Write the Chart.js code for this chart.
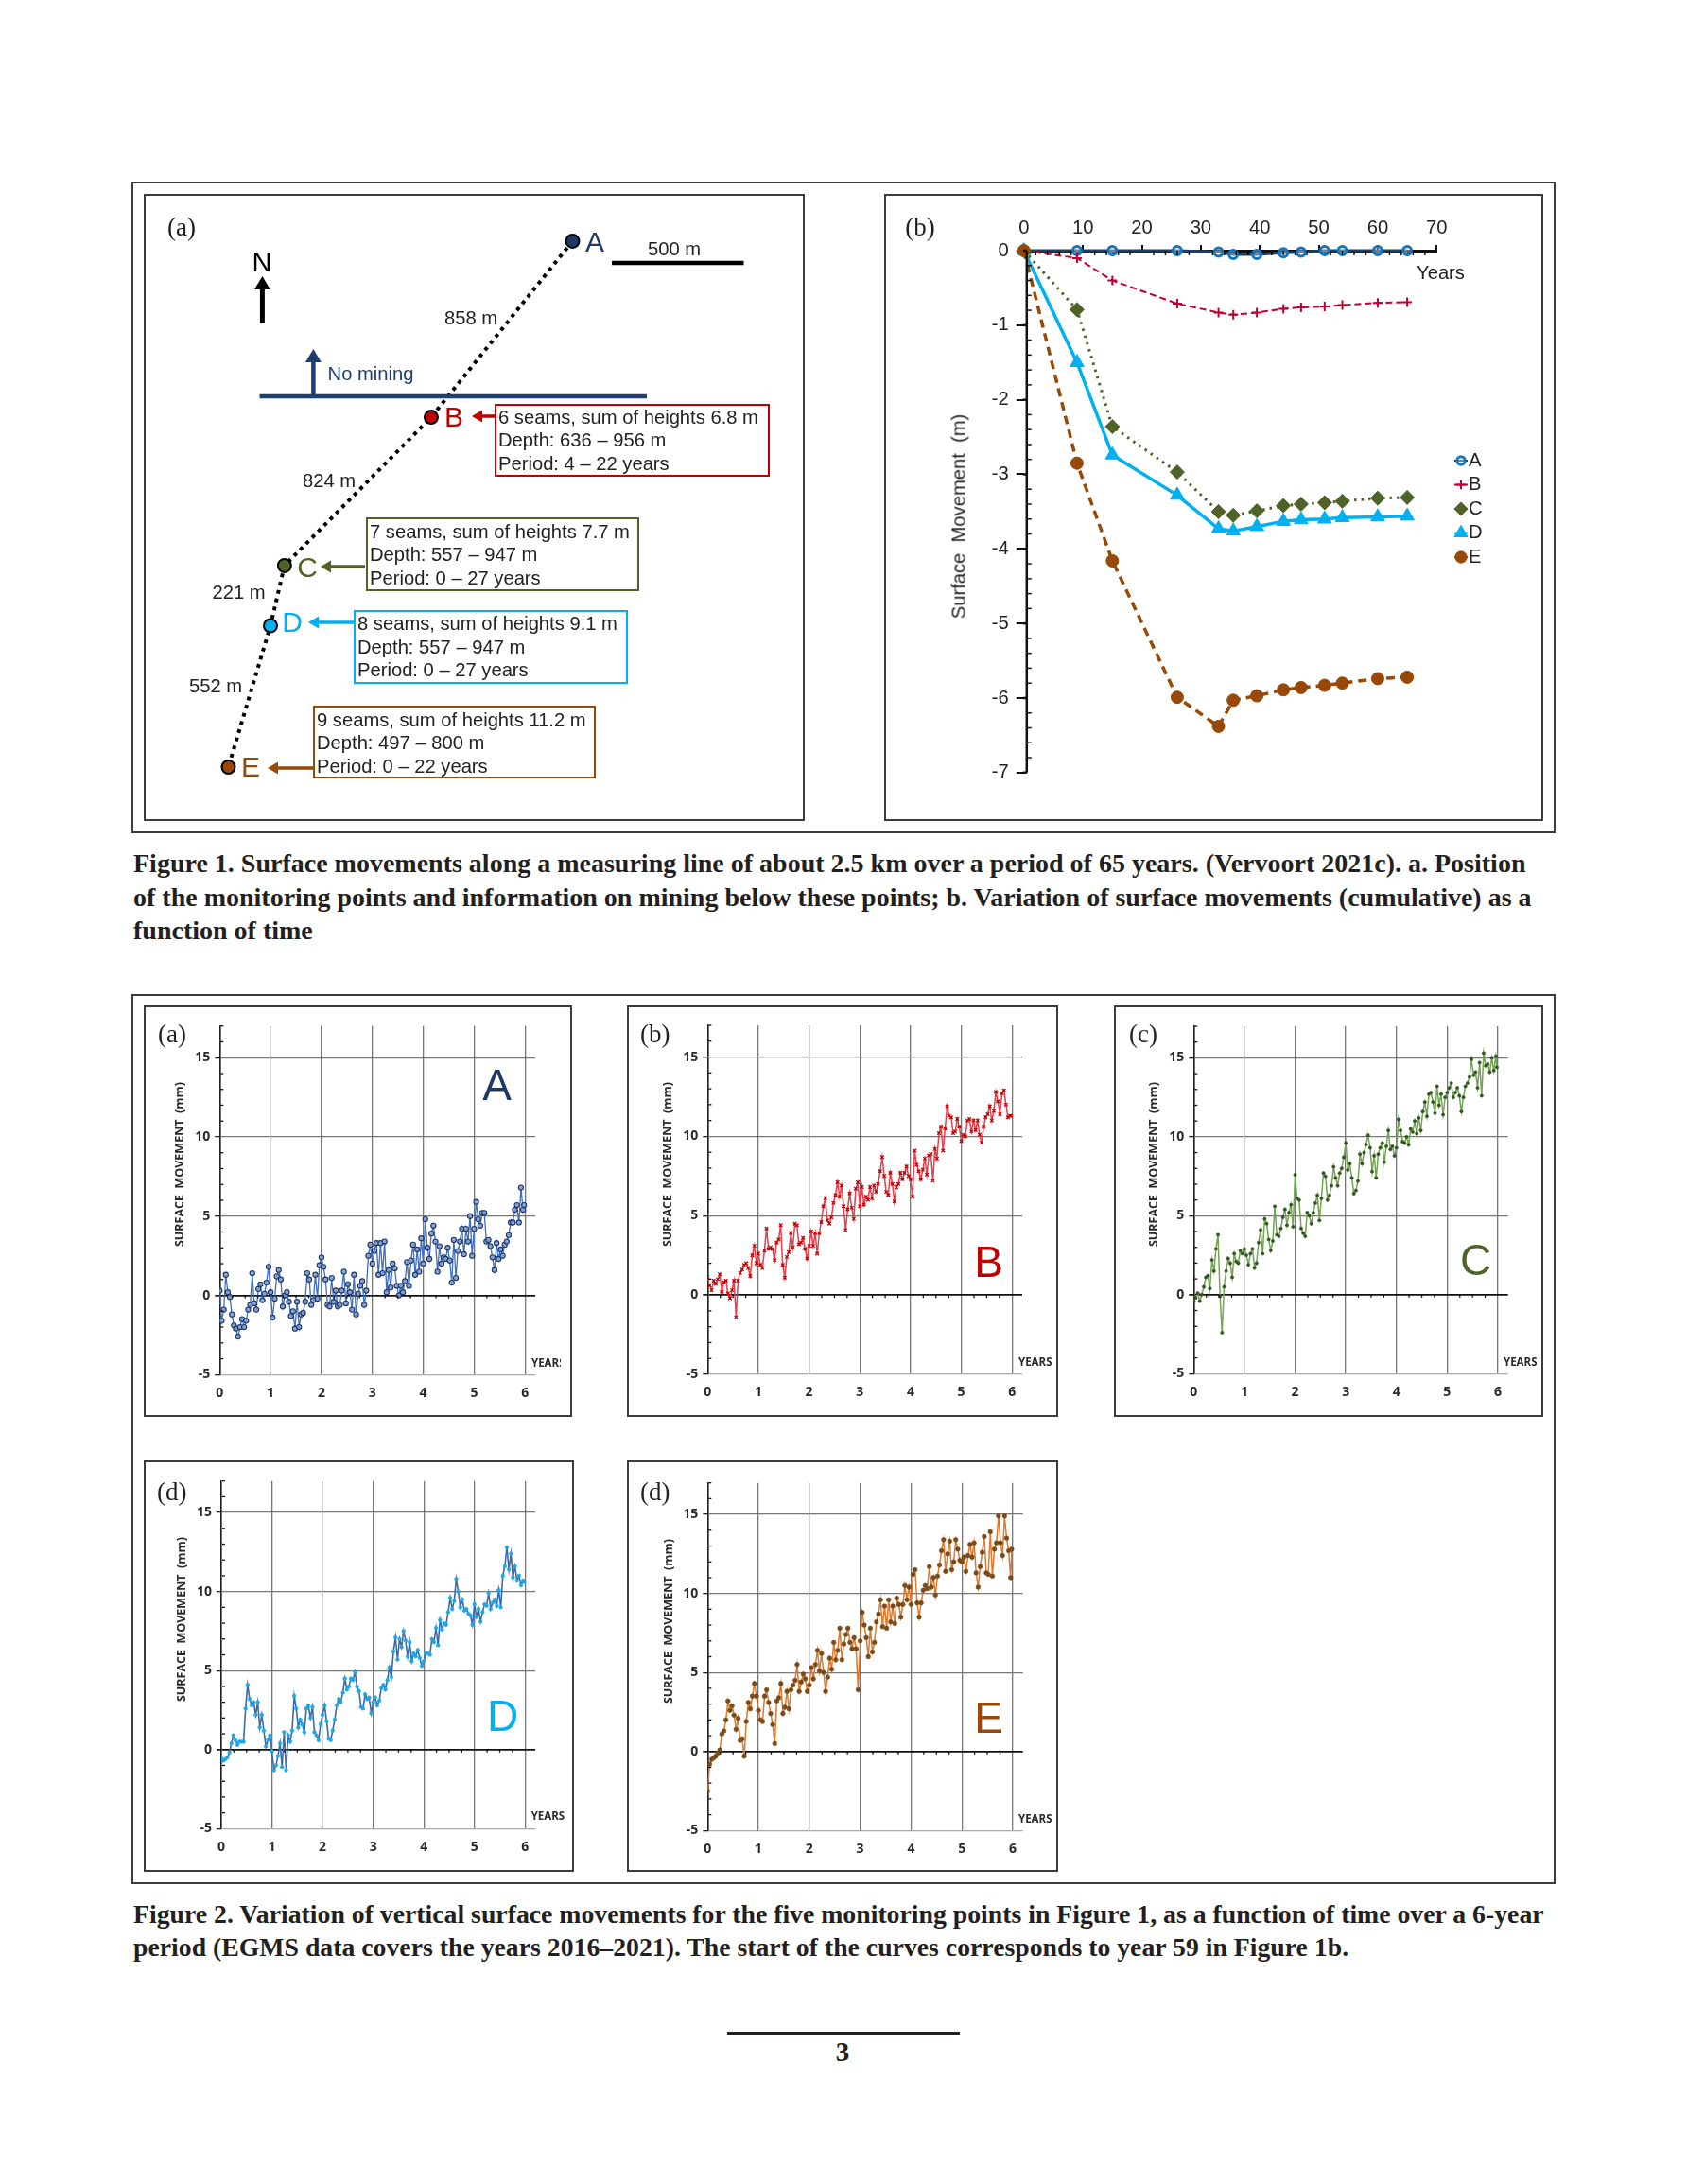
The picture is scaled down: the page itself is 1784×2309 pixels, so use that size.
<!DOCTYPE html>
<html lang="en">
<head>
<meta charset="UTF-8">
<title>Surface movements</title>
<script src="https://cdn.jsdelivr.net/npm/chart.js"></script>
<style>
  html, body { margin: 0; padding: 0; background: #fff; }
  #page { position: relative; width: 1784px; height: 2309px; overflow: hidden; }
  #page canvas { position: absolute; }
  .frame { position: absolute; box-sizing: border-box; border: 2.5px solid #3c3c3c; }
  .callout { position: absolute; box-sizing: border-box; border: 2.5px solid; }
  .rule { position: absolute; background: #231f20; }
  .t { position: absolute; white-space: pre; line-height: 1; }
  .caption { font: bold 28px "Liberation Serif", serif; color: #231f20; }
  .panel { font: 27px "Liberation Serif", serif; color: #231f20; }
  .sans { font: 20.2px "Liberation Sans", Arial, sans-serif; color: #222; }
  .ytitle { font: bold 12.5px "Open Sans", sans-serif; color: #2a2a2a; }
  .years { font: bold 11.5px "Open Sans", sans-serif; color: #2a2a2a; }
</style>
</head>
<body>
<div id="page"></div>
<script>
// ---- Figure 1b : cumulative movement (m) against years
const fig1Years = [0, 9, 15, 26, 33, 35.5, 39.5, 44, 47, 51, 54, 60, 65];
const fig1A = [0, 0, 0, 0, -0.02, -0.05, -0.05, -0.03, -0.02, 0, 0, 0, 0];
const fig1B = [0, -0.1, -0.4, -0.71, -0.83, -0.86, -0.83, -0.78, -0.76, -0.75, -0.73, -0.7, -0.69];
const fig1C = [0, -0.79, -2.36, -2.97, -3.5, -3.55, -3.49, -3.42, -3.4, -3.38, -3.36, -3.32, -3.31];
const fig1D = [0, -1.5, -2.74, -3.28, -3.73, -3.76, -3.7, -3.63, -3.61, -3.6, -3.58, -3.57, -3.56];
const fig1E = [0, -2.85, -4.16, -5.99, -6.38, -6.03, -5.97, -5.89, -5.86, -5.83, -5.8, -5.74, -5.72];

// ---- Figure 1a : monitoring points in metres east / north of E
const stationNames = ['A', 'B', 'C', 'D', 'E'];
const stationEast = [1300, 766, 212, 159, 0];
const stationNorth = [1986, 1321, 761, 534, 0];

// ---- Figure 2 : vertical movement (mm), one row per year
const surveyYears = [
  0.00,0.04,0.08,0.12,0.16,0.20,0.24,0.28,0.32,0.36,0.40,0.44,0.48,0.52,0.56,0.60,0.64,0.68,0.72,0.76,0.80,0.84,0.88,0.92,0.96,
  1.00,1.04,1.08,1.12,1.16,1.20,1.24,1.28,1.32,1.36,1.40,1.44,1.48,1.52,1.56,1.60,1.64,1.68,1.72,1.76,1.80,1.84,1.88,1.92,1.96,
  2.00,2.04,2.08,2.12,2.16,2.20,2.24,2.28,2.32,2.36,2.40,2.44,2.48,2.52,2.56,2.60,2.64,2.68,2.72,2.76,2.80,2.84,2.88,2.92,2.96,
  3.00,3.04,3.08,3.12,3.16,3.20,3.24,3.28,3.32,3.36,3.40,3.44,3.48,3.52,3.56,3.60,3.64,3.68,3.72,3.76,3.80,3.84,3.88,3.92,3.96,
  4.00,4.04,4.08,4.12,4.16,4.20,4.24,4.28,4.32,4.36,4.40,4.44,4.48,4.52,4.56,4.60,4.64,4.68,4.72,4.76,4.80,4.84,4.88,4.92,4.96,
  5.00,5.04,5.08,5.12,5.16,5.20,5.24,5.28,5.32,5.36,5.40,5.44,5.48,5.52,5.56,5.60,5.64,5.68,5.72,5.76,5.80,5.84,5.88,5.92,5.96,
  5.98];
const seriesA = [
  0.3,-1.6,-0.9,1.3,0.2,-0.1,-1.2,-1.9,-2.1,-2.6,-2.0,-1.5,-2.0,-1.6,-0.9,-0.6,1.4,-0.5,-0.9,0.4,0.7,-0.3,0.1,0.8,1.8,
  0.2,-1.4,-0.2,1.2,1.6,1.0,-0.7,0,0.2,-0.4,-1.3,-1.0,-2.1,-0.4,-2.0,-1.2,-1.1,-0.4,1.4,1.0,-0.6,-0.3,1.3,-0.2,1.9,
  2.4,1.8,1.0,-0.6,-0.7,1.1,-0.4,0.3,-0.7,-0.6,0.3,1.5,-0.5,0.7,0.2,-0.9,1.3,-1.2,0.1,0.6,0.9,-0.6,0.3,2.5,3.2,
  2.0,2.8,3.3,1.3,3.3,1.4,3.4,0.2,1.6,0.5,2.0,1.7,0.6,0,0.6,0.2,0.9,2.1,0.6,2.2,3.2,1.3,2.9,1.5,3.6,
  2.0,4.8,3.0,2.3,3.9,4.4,3.4,1.5,3.1,2.0,2.4,2.3,3.0,2.2,0.8,3.5,1.1,2.8,3.4,4.2,2.6,4.2,3.4,5.0,2.5,
  4.2,5.9,4.8,4.4,5.2,5.2,3.4,3.5,3.1,2.4,1.6,3.3,2.3,2.9,2.5,3.2,3.4,3.8,4.6,4.6,5.4,5.7,4.6,6.8,5.4,
  5.7];
const seriesB = [
  1.1,0.6,0.3,0.9,0.7,1.0,1.3,0.2,0.8,0.9,0.1,-0.2,0.3,0.9,-1.4,0.9,1.4,1.6,1.9,2.0,1.7,1.2,2.5,3.1,2.0,
  2.6,1.9,1.7,2.8,4.2,2.9,3.0,2.9,2.2,3.3,3.5,4.4,1.9,1.1,2.4,2.7,3.9,3.0,4.5,4.4,3.2,3.3,3.6,2.9,2.3,
  3.1,4.0,3.1,3.9,2.6,3.9,4.6,5.6,6.1,4.7,4.5,4.9,5.8,6.3,7.1,6.2,6.9,5.6,4.1,5.4,6.4,5.5,4.8,6.7,7.1,
  5.6,6.8,5.7,6.2,6.0,6.8,6.1,6.9,6.5,7.0,7.8,8.7,7.5,6.5,6.3,7.7,7.0,5.9,6.8,7.0,7.7,7.3,7.7,8.1,7.5,
  7.3,6.2,9.1,8.2,7.8,7.3,7.9,8.6,7.6,8.8,8.9,7.2,9.2,8.6,10.2,10.6,9.1,10.5,11.9,11.3,11.2,10.2,10.3,11.1,10.6,
  9.7,10.1,10.0,11.0,11.1,10.3,11.0,10.4,11.0,10.1,9.6,10.6,11.2,11.4,11.9,11.0,11.6,12.8,12.2,11.4,12.7,12.9,12.0,11.2,11.3,
  11.3];
const seriesC = [
  -0.4,-0.2,0.1,-0.4,0,0.5,1.1,1.2,0.4,2.2,1.5,2.9,3.8,-0.1,-2.4,0.5,1.5,2.3,2.0,1.1,2.6,2.1,2.0,2.8,2.6,
  2.9,2.5,1.9,2.6,2.9,1.7,2.0,3.3,4.1,2.6,4.8,4.5,3.5,2.8,3.4,5.6,3.8,3.7,4.2,4.9,5.4,4.4,5.2,5.7,4.3,
  7.6,6.1,6.0,4.2,3.9,3.7,5.2,5.0,4.5,5.2,5.8,6.3,4.7,6.1,7.7,7.5,6.0,6.3,6.9,8.1,7.4,6.9,7.7,8.0,8.7,
  9.6,7.9,8.3,7.4,6.4,6.6,7.2,8.9,8.3,9.0,9.5,10.1,9.3,7.8,8.8,7.4,8.9,9.3,9.6,8.4,9.4,10.4,9.2,9.4,8.8,
  9.3,11.1,10.4,9.7,9.6,10.0,9.5,10.5,10.3,11.0,10.2,11.2,10.4,11.6,12.2,11.3,12.7,12.8,12.2,11.5,13.2,12.0,12.7,11.4,12.5,
  12.8,13.1,13.4,12.5,12.8,13.1,12.6,11.6,12.5,13.2,13.4,13.8,14.9,13.9,14.1,13.1,14.7,12.6,15.3,14.5,14.6,14.1,15.0,14.2,15.1,
  14.4];
const seriesD = [
  -0.5,-0.7,-0.6,-0.5,-0.2,0.4,0.9,0.6,0.3,0.5,0.5,0.5,2.6,4.1,3.2,2.8,3.0,2.2,3.0,1.4,2.2,1.2,0.2,0.6,0.9,
  -0.1,-1.3,-1.0,-0.4,0.4,-1.1,1.1,-1.3,0.9,0.5,1.2,3.4,2.6,1.4,1.9,1.6,1.1,2.6,2.8,2.0,2.7,1.1,0.9,0.6,1.6,
  2.2,2.8,1.8,0.7,0.6,1.2,1.9,2.8,3.2,3.0,3.6,4.5,3.8,4.0,4.5,4.4,4.9,4.0,3.7,2.7,2.6,3.5,3.2,3.3,2.3,
  3.0,3.3,2.8,3.1,3.9,4.1,3.8,4.4,5.2,4.6,6.2,7.1,5.7,7.0,6.5,7.5,6.9,5.9,6.8,5.6,6.1,5.9,6.3,5.8,5.3,
  5.6,6.1,6.1,6.0,7.0,6.8,7.7,6.6,8.2,7.6,8.0,7.9,8.7,9.6,8.9,9.4,10.8,10.0,9.0,9.5,8.8,8.9,8.6,8.5,7.9,
  9.2,8.4,8.9,8.1,8.7,9.2,9.1,9.9,8.9,9.3,9.5,9.1,10.1,9.0,11.0,11.6,12.8,11.4,12.4,10.9,11.6,10.7,11.0,10.4,10.7,
  10.6];
const seriesE = [
  -2.5,-0.8,-0.5,-0.4,-0.3,-0.1,0.1,1.1,1.3,2.0,3.2,2.6,2.9,2.3,1.4,2.1,0.7,0.8,-0.3,1.9,3.1,2.7,3.5,4.3,3.5,
  2.6,2.0,1.9,3.5,3.9,3.1,2.4,1.7,0.5,3.2,3.4,4.3,2.4,2.8,3.8,2.7,3.9,4.2,4.5,5.5,3.8,4.4,4.9,4.6,3.8,
  4.2,5.3,4.6,5.5,6.4,5.1,6.2,5.0,3.8,4.7,5.9,5.2,6.9,5.8,6.4,7.8,5.8,6.8,7.4,7.8,6.9,6.5,7.2,6.5,3.9,
  7.0,8.8,8.0,7.2,6.0,7.8,6.3,6.9,8.2,8.7,9.6,7.9,9.2,7.8,9.6,8.2,9.2,8.1,9.7,9.3,8.5,9.3,10.5,9.6,10.4,
  9.3,11.2,11.5,9.4,8.5,9.4,10.2,10.5,10.3,11.7,10.4,11.0,9.9,11.1,11.8,12.7,13.4,11.4,12.5,13.3,11.5,12.0,13.4,12.8,12.1,
  12.0,12.3,11.4,12.4,13.1,12.3,13.2,11.3,10.4,11.7,12.6,13.6,11.3,11.2,13.9,11.1,12.8,13.2,14.9,13.2,12.4,14.9,13.5,12.7,11.0,
  12.8];

// axis furniture
const fig2MinorX = [0.25,0.5,0.75,1.25,1.5,1.75,2.25,2.5,2.75,3.25,3.5,3.75,4.25,4.5,4.75,5.25,5.5,5.75];
const fig2MinorY = [-4,-3,-2,-1,1,2,3,4,6,7,8,9,11,12,13,14,16,17];
const fig1MinorX = [2,4,6,8,12,14,16,18,22,24,26,28,32,34,36,38,42,44,46,48,52,54,56,58,62,64,66,68];
const fig1MinorY = [-0.2,-0.4,-0.6,-0.8,-1.2,-1.4,-1.6,-1.8,-2.2,-2.4,-2.6,-2.8,-3.2,-3.4,-3.6,-3.8,-4.2,-4.4,-4.6,-4.8,-5.2,-5.4,-5.6,-5.8,-6.2,-6.4,-6.6,-6.8];

const page = document.getElementById('page');

function text(str, x, y, cls, css) {
  const d = document.createElement('div');
  d.className = 't ' + cls;
  d.textContent = str;
  d.style.left = x + 'px';
  d.style.top = y + 'px';
  d.style.transform = 'translate(-50%,-50%)';
  if (css) d.style.cssText += css;
  page.appendChild(d);
  return d;
}
function leftText(str, x, y, cls, css) {
  const d = text(str, x, y, cls, css);
  d.style.transform = 'translate(0,-50%)';
  return d;
}
function frame(l, t, r, b, cls, color) {
  const d = document.createElement('div');
  d.className = cls || 'frame';
  d.style.cssText += `left:${l}px;top:${t}px;width:${r - l}px;height:${b - t}px;` + (color ? `border-color:${color};` : '');
  page.appendChild(d);
}
function makeCanvas(l, t, r, b) {
  const c = document.createElement('canvas');
  c.width = r - l;
  c.height = b - t;
  c.style.left = l + 'px';
  c.style.top = t + 'px';
  page.appendChild(c);
  return c;
}

// small ticks the scale itself does not draw
const minorTicks = {
  id: 'minorTicks',
  afterDraw(chart, args, o) {
    const { ctx, scales: { x, y } } = chart;
    ctx.save();
    ctx.strokeStyle = '#111';
    ctx.lineWidth = o.width;
    const y0 = y.getPixelForValue(o.xAxisAt);
    o.x.forEach(v => {
      const px = x.getPixelForValue(v);
      ctx.beginPath(); ctx.moveTo(px, y0); ctx.lineTo(px, y0 + o.len); ctx.stroke();
    });
    const x0 = x.getPixelForValue(0) + o.yShift;
    o.y.forEach(v => {
      const py = y.getPixelForValue(v);
      ctx.beginPath(); ctx.moveTo(x0, py); ctx.lineTo(x0 + o.len, py); ctx.stroke();
    });
    if (o.axisWidth) {
      ctx.lineWidth = o.axisWidth;
      ctx.beginPath(); ctx.moveTo(x0, y.top); ctx.lineTo(x0, y.bottom); ctx.stroke();
      y.ticks.forEach(t => {
        const py = y.getPixelForValue(t.value);
        ctx.beginPath(); ctx.moveTo(x0 - o.yShift - 1, py); ctx.lineTo(x0, py); ctx.stroke();
      });
    }
    ctx.restore();
  }
};

// ---------- Figure 2 panels
function fig2Chart(box, area, values, look) {
  const [l, t, r, b] = box;
  const c = makeCanvas(l, t, r, b);
  new Chart(c, {
    type: 'line',
    data: {
      datasets: [{
        data: surveyYears.map((yr, i) => ({ x: yr, y: values[i] })),
        borderColor: look.line,
        borderWidth: look.lineWidth || 1.3,
        pointStyle: look.style || 'circle',
        pointRadius: look.radius,
        pointBackgroundColor: look.fill,
        pointBorderColor: look.edge,
        pointBorderWidth: look.edgeWidth || 1,
        tension: 0
      }]
    },
    options: {
      responsive: false,
      animation: false,
      events: [],
      layout: { autoPadding: false, padding: { left: 0, top: area.top - t, right: r - area.right, bottom: 0 } },
      plugins: {
        legend: { display: false },
        tooltip: { enabled: false },
        minorTicks: { x: fig2MinorX, y: fig2MinorY, xAxisAt: 0, len: 3, width: 1.3, yShift: 1 }
      },
      scales: {
        x: {
          type: 'linear', min: 0, max: 6.2,
          afterFit(s) { s.height = b - area.bottom; },
          grid: {
            drawTicks: false,
            lineWidth: 1.3,
            color: ctx => ctx.tick && ctx.tick.value === 0 ? '#222' : '#777'
          },
          border: { display: false },
          ticks: {
            stepSize: 1, includeBounds: false, maxRotation: 0, padding: 11,
            color: '#2a2a2a', font: { family: 'Open Sans', weight: 'bold', size: 14 },
            callback: v => v
          }
        },
        y: {
          type: 'linear', min: -5, max: 17,
          afterFit(s) { s.width = area.left - l; },
          grid: {
            tickLength: 5,
            tickColor: '#222',
            lineWidth: ctx => ctx.tick && ctx.tick.value === 0 ? 1.8 : 1.3,
            color: ctx => {
              if (!ctx.tick) return '#777';
              if (ctx.tick.value === 0) return '#111';
              return ctx.tick.value === -5 ? '#aaa' : '#777';
            }
          },
          border: { display: true, color: '#222', width: 1.5 },
          ticks: {
            stepSize: 5, includeBounds: false, padding: 5,
            color: '#2a2a2a', font: { family: 'Open Sans', weight: 'bold', size: 14 }
          }
        }
      }
    },
    plugins: [minorTicks]
  });
}

// ---------- frames
frame(139, 192, 1645, 881);
frame(152, 205, 851, 868);
frame(935, 205, 1632, 868);
frame(139, 1051, 1645, 1992);
frame(152, 1063, 605, 1498);
frame(663, 1063, 1119, 1498);
frame(1178, 1063, 1632, 1498);
frame(152, 1544, 607, 1979);
frame(663, 1544, 1119, 1979);

// ---------- Figure 1a map, drawn on a metre scale (500 m = 140 px)
const mapColors = ['#1f3864', '#c00000', '#4f6228', '#00b0f0', '#984807'];
const mapNotes = {
  id: 'mapNotes',
  afterDraw(chart) {
    const ctx = chart.ctx;
    const ox = 152, oy = 205;
    function arrow(x1, y1, x2, y2, color, w, head) {
      const a = Math.atan2(y2 - y1, x2 - x1);
      ctx.strokeStyle = ctx.fillStyle = color;
      ctx.lineWidth = w;
      ctx.beginPath();
      ctx.moveTo(x1 - ox, y1 - oy);
      ctx.lineTo(x2 - ox - Math.cos(a) * head, y2 - oy - Math.sin(a) * head);
      ctx.stroke();
      ctx.beginPath();
      ctx.moveTo(x2 - ox, y2 - oy);
      ctx.lineTo(x2 - ox - Math.cos(a) * head - Math.sin(a) * head * 0.6, y2 - oy - Math.sin(a) * head + Math.cos(a) * head * 0.6);
      ctx.lineTo(x2 - ox - Math.cos(a) * head + Math.sin(a) * head * 0.6, y2 - oy - Math.sin(a) * head - Math.cos(a) * head * 0.6);
      ctx.closePath();
      ctx.fill();
    }
    ctx.save();
    arrow(277.4, 342, 277.4, 292, '#000', 5, 14);
    arrow(331.4, 419, 331.4, 369, '#1f3f6e', 4.5, 14);
    arrow(523, 440, 499, 440, '#c00000', 3.5, 11);
    arrow(386, 599, 339, 599, '#4f6228', 3.5, 11);
    arrow(374, 658, 326, 658, '#00b0f0', 3.5, 11);
    arrow(331, 812, 283, 812, '#984807', 3.5, 11);
    ctx.strokeStyle = '#1f3f6e';
    ctx.lineWidth = 4.5;
    ctx.beginPath(); ctx.moveTo(274.5 - ox, 419 - oy); ctx.lineTo(684 - ox, 419 - oy); ctx.stroke();
    ctx.strokeStyle = '#000';
    ctx.beginPath(); ctx.moveTo(647 - ox, 278 - oy); ctx.lineTo(786.5 - ox, 278 - oy); ctx.stroke();
    ctx.restore();
  }
};
const mapCanvas = makeCanvas(152, 205, 851, 868);
new Chart(mapCanvas, {
  type: 'scatter',
  data: {
    labels: stationNames,
    datasets: [{
      data: stationEast.map((e, i) => ({ x: e, y: stationNorth[i] })),
      showLine: true,
      borderColor: '#000',
      borderWidth: 4,
      borderDash: [4, 5],
      pointRadius: 7,
      pointBackgroundColor: mapColors,
      pointBorderColor: '#000',
      pointBorderWidth: 2
    }]
  },
  options: {
    responsive: false,
    animation: false,
    events: [],
    layout: { autoPadding: false },
    plugins: { legend: { display: false }, tooltip: { enabled: false } },
    scales: {
      x: { type: 'linear', display: false, min: -319.6, max: 2176.8 },
      y: { type: 'linear', display: false, min: -203.6, max: 2164.3 }
    }
  },
  plugins: [mapNotes]
});

text('(a)', 192, 240, 'panel');
text('N', 277, 277, 'sans', 'font-size:29px;color:#000;');
text('500 m', 713, 263, 'sans');
text('No mining', 392, 395, 'sans', 'color:#1f3f6e;');
text('858 m', 498, 336, 'sans');
text('824 m', 348, 508, 'sans');
text('221 m', 252.5, 626, 'sans');
text('552 m', 228, 724.5, 'sans');
text('A', 629, 256, 'sans', 'font-size:30px;color:#1f3864;');
text('B', 480, 441, 'sans', 'font-size:30px;color:#c00000;');
text('C', 325, 600, 'sans', 'font-size:30px;color:#4f6228;');
text('D', 309, 658, 'sans', 'font-size:30px;color:#00b0f0;');
text('E', 265, 811, 'sans', 'font-size:30px;color:#984807;');

frame(523, 426.5, 814, 504, 'callout', '#c00000');
leftText('6 seams, sum of heights 6.8 m', 527, 441, 'sans');
leftText('Depth: 636 \u2013 956 m', 527, 465, 'sans');
leftText('Period: 4 \u2013 22 years', 527, 489.5, 'sans');
frame(386.5, 547, 676, 624.5, 'callout', '#4f6228');
leftText('7 seams, sum of heights 7.7 m', 391, 562, 'sans');
leftText('Depth: 557 \u2013 947 m', 391, 586, 'sans');
leftText('Period: 0 \u2013 27 years', 391, 611, 'sans');
frame(374, 644.5, 663.5, 722.5, 'callout', '#00b0f0');
leftText('8 seams, sum of heights 9.1 m', 378, 659, 'sans');
leftText('Depth: 557 \u2013 947 m', 378, 684, 'sans');
leftText('Period: 0 \u2013 27 years', 378, 708, 'sans');
frame(330.5, 745.5, 630, 823, 'callout', '#984807');
leftText('9 seams, sum of heights 11.2 m', 335, 761, 'sans');
leftText('Depth: 497 \u2013 800 m', 335, 785, 'sans');
leftText('Period: 0 \u2013 22 years', 335, 809.5, 'sans');

// ---------- Figure 1b
const fig1Looks = [
  { label: 'A', values: fig1A, line: '#1f3f60', width: 3, dash: [], style: 'circle', radius: 4.5, fill: 'rgba(255,255,255,0.35)', edge: '#1474bc', edgeWidth: 3, order: 4 },
  { label: 'B', values: fig1B, line: '#c00030', width: 2, dash: [7, 4], style: 'cross', radius: 5, fill: '#c00030', edge: '#c00030', edgeWidth: 2, order: 3 },
  { label: 'C', values: fig1C, line: '#4f6228', width: 3, dash: [2.5, 5], style: 'rectRot', radius: 7.5, fill: '#4f6228', edge: '#4f6228', edgeWidth: 1, order: 2 },
  { label: 'D', values: fig1D, line: '#00b0f0', width: 3.5, dash: [], style: 'triangle', radius: 8.5, fill: '#00b0f0', edge: '#00b0f0', edgeWidth: 1, order: 1 },
  { label: 'E', values: fig1E, line: '#984807', width: 3.5, dash: [9, 6], style: 'circle', radius: 6.5, fill: '#984807', edge: '#984807', edgeWidth: 1, order: 0 }
];
const fig1Legend = {
  id: 'fig1Legend',
  afterDraw(chart) {
    const ctx = chart.ctx;
    ctx.save();
    ctx.font = '20.2px "Liberation Sans"';
    ctx.textBaseline = 'middle';
    chart.data.datasets.forEach((ds, i) => {
      const y = 282 + i * 25.5, x = 610;
      ctx.strokeStyle = ds.borderColor;
      ctx.lineWidth = Math.min(ds.borderWidth, 2);
      ctx.setLineDash([]);
      ctx.beginPath(); ctx.moveTo(x - 7, y); ctx.lineTo(x + 7, y); ctx.stroke();
      ctx.fillStyle = ds.pointBackgroundColor;
      ctx.strokeStyle = ds.pointBorderColor;
      ctx.lineWidth = ds.pointBorderWidth;
      Chart.helpers.drawPoint(ctx, { pointStyle: ds.pointStyle, radius: ds.pointRadius * 0.95, borderWidth: ds.pointBorderWidth }, x, y);
      ctx.fillStyle = '#222';
      ctx.fillText(ds.label, x + 8, y);
    });
    ctx.restore();
  }
};
const fig1Canvas = makeCanvas(935, 205, 1632, 868);
new Chart(fig1Canvas, {
  type: 'line',
  data: {
    datasets: fig1Looks.map(s => ({
      label: s.label,
      data: fig1Years.map((yr, i) => ({ x: yr, y: s.values[i] })),
      borderColor: s.line,
      borderWidth: s.width,
      borderDash: s.dash,
      pointStyle: s.style,
      pointRadius: s.radius,
      pointBackgroundColor: s.fill,
      pointBorderColor: s.edge,
      pointBorderWidth: s.edgeWidth,
      order: s.order,
      clip: false,
      tension: 0
    }))
  },
  options: {
    responsive: false,
    animation: false,
    events: [],
    layout: { autoPadding: false, padding: { top: 0, right: 112.7, bottom: 51.2, left: 0 } },
    plugins: {
      legend: { display: false },
      tooltip: { enabled: false },
      minorTicks: { x: fig1MinorX, y: fig1MinorY, xAxisAt: 0, len: 5, width: 1.5, yShift: 3, axisWidth: 2.5 }
    },
    scales: {
      x: {
        type: 'linear', position: 'top', min: 0, max: 70,
        afterFit(s) { s.height = 60; },
        grid: { drawOnChartArea: false, tickLength: 6, tickColor: '#111', lineWidth: 2 },
        border: { display: true, color: '#111', width: 3 },
        ticks: { stepSize: 10, includeBounds: false, maxRotation: 0, padding: 5, color: '#222', font: { family: 'Liberation Sans', size: 20.2 } }
      },
      y: {
        type: 'linear', min: -7, max: 0,
        afterFit(s) { s.width = 147.8; },
        grid: { drawOnChartArea: false, tickLength: 8, tickColor: '#111', lineWidth: 2 },
        border: { display: false },
        ticks: { stepSize: 1, padding: 8, color: '#222', font: { family: 'Liberation Sans', size: 20.2 } }
      }
    }
  },
  plugins: [minorTicks, fig1Legend]
});
text('(b)', 973, 240, 'panel');
text('Years', 1523.5, 288, 'sans');
text('Surface  Movement  (m)', 1013.5, 546, 'sans', 'transform:translate(-50%,-50%) rotate(-90deg);');

// ---------- Figure 2
const blueLook = { line: '#3f6fc0', radius: 2.6, fill: 'rgba(130,158,208,0.9)', edge: '#1d3566', edgeWidth: 1.1 };
const redLook = { line: '#e2404e', lineWidth: 1.5, radius: 2.5, style: 'crossRot', fill: '#c00000', edge: '#c00000', edgeWidth: 1.3 };
const greenLook = { line: '#74a454', lineWidth: 1.5, radius: 1.7, fill: '#33561f', edge: '#33561f', edgeWidth: 0.5 };
const skyLook = { line: '#3a6aa8', lineWidth: 1.6, radius: 1.9, fill: '#1fa9e4', edge: '#1fa9e4', edgeWidth: 0.5 };
const brownLook = { line: '#dd7a30', lineWidth: 1.5, radius: 2.4, fill: '#7a4a18', edge: '#7a4a18', edgeWidth: 0.5 };

fig2Chart([154, 1065, 603, 1496], { left: 232.3, right: 566, top: 1084.7, bottom: 1453.3 }, seriesA, blueLook);
fig2Chart([665, 1065, 1117, 1496], { left: 748.3, right: 1081, top: 1084, bottom: 1453 }, seriesB, redLook);
fig2Chart([1180, 1065, 1630, 1496], { left: 1262.3, right: 1594.7, top: 1085, bottom: 1452.3 }, seriesC, greenLook);
fig2Chart([154, 1546, 605, 1977], { left: 234, right: 566, top: 1565.7, bottom: 1933.3 }, seriesD, skyLook);
fig2Chart([665, 1546, 1117, 1977], { left: 748.3, right: 1081.7, top: 1567.7, bottom: 1935.3 }, seriesE, brownLook);

text('(a)', 182, 1093, 'panel');
text('(b)', 692.7, 1093, 'panel');
text('(c)', 1209, 1093, 'panel');
text('(d)', 181.7, 1576.7, 'panel');
text('(d)', 692.7, 1576.7, 'panel');

const titleRot = 'transform:translate(-50%,-50%) rotate(-90deg);';
text('SURFACE  MOVEMENT  (mm)', 189, 1231, 'ytitle', titleRot);
text('SURFACE  MOVEMENT  (mm)', 705, 1231, 'ytitle', titleRot);
text('SURFACE  MOVEMENT  (mm)', 1219, 1231, 'ytitle', titleRot);
text('SURFACE  MOVEMENT  (mm)', 190.7, 1712, 'ytitle', titleRot);
text('SURFACE  MOVEMENT  (mm)', 705.7, 1714, 'ytitle', titleRot);

leftText('YEARS', 562, 1440, 'years', 'width:31px;overflow:hidden;');
leftText('YEARS', 1077, 1439, 'years');
leftText('YEARS', 1590, 1439, 'years');
leftText('YEARS', 561.7, 1919.3, 'years');
leftText('YEARS', 1077, 1922, 'years');

const bigLetter = 'font-size:46px;';
text('A', 525.7, 1146.7, 'sans', bigLetter + 'color:#1f3864;');
text('B', 1045.7, 1334, 'sans', bigLetter + 'color:#c00000;');
text('C', 1560.7, 1331.7, 'sans', bigLetter + 'color:#4f6228;');
text('D', 531.7, 1814, 'sans', bigLetter + 'color:#00b0f0;');
text('E', 1045.7, 1816, 'sans', bigLetter + 'color:#984807;');

// ---------- captions
leftText('Figure 1. Surface movements along a measuring line of about 2.5 km over a period of 65 years. (Vervoort 2021c). a. Position', 141, 913, 'caption');
leftText('of the monitoring points and information on mining below these points; b. Variation of surface movements (cumulative) as a', 141, 948.5, 'caption');
leftText('function of time', 141, 984, 'caption');
leftText('Figure 2. Variation of vertical surface movements for the five monitoring points in Figure 1, as a function of time over a 6-year', 141, 2023.5, 'caption', 'font-size:27.75px;');
leftText('period (EGMS data covers the years 2016\u20132021). The start of the curves corresponds to year 59 in Figure 1b.', 141, 2058.5, 'caption', 'font-size:27.75px;');
frame(769, 2147.5, 1015, 2150.5, 'rule');
text('3', 891, 2169, 'caption', 'font-size:29px;');
</script>
</body>
</html>
